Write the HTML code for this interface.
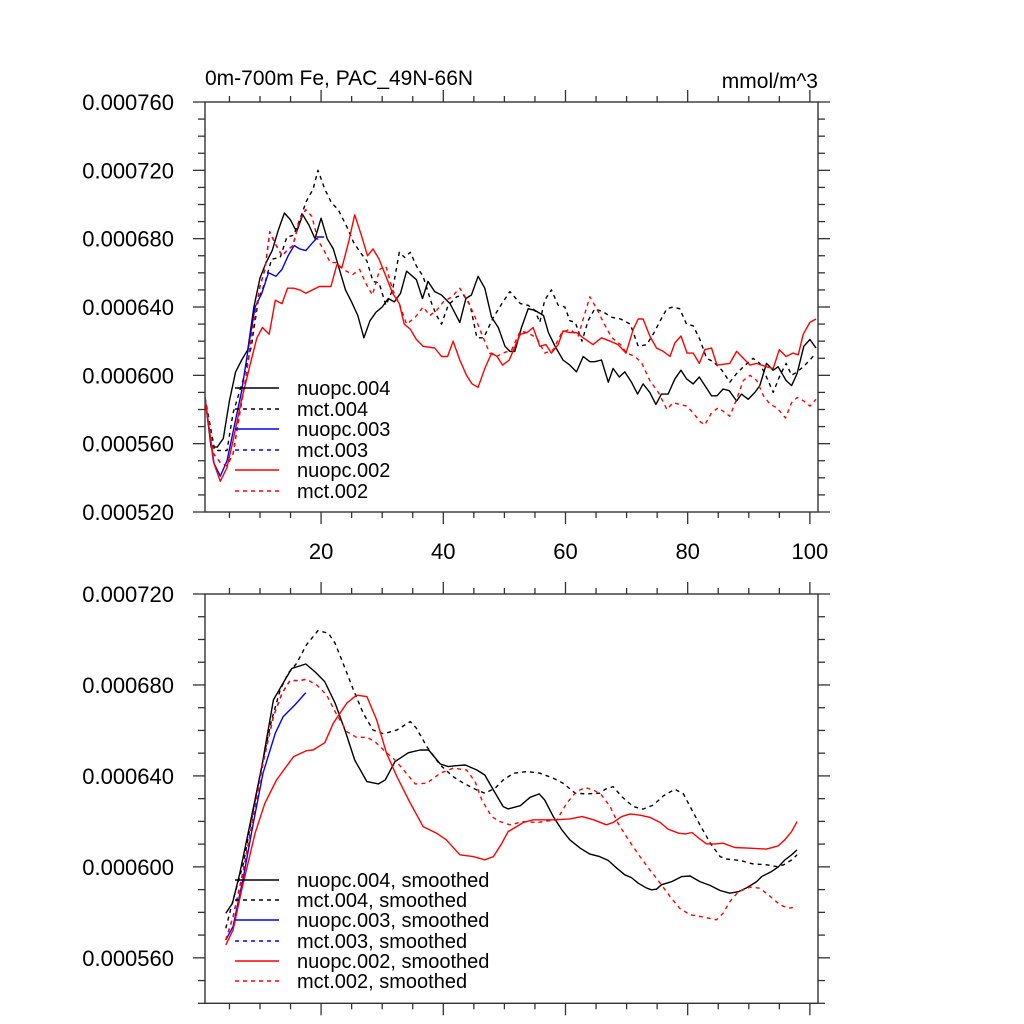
<!DOCTYPE html>
<html><head><meta charset="utf-8"><title>0m-700m Fe, PAC_49N-66N</title>
<style>html,body{margin:0;padding:0;background:#fff;}svg{display:block;font-family:"Liberation Sans",Arial,sans-serif;}</style>
</head><body>
<svg id="chart" width="1024" height="1024" viewBox="0 0 1024 1024" xmlns="http://www.w3.org/2000/svg">
<rect x="0" y="0" width="1024" height="1024" fill="#fff"/>
<defs>
<clipPath id="clipTop"><rect x="205" y="102" width="613" height="410"/></clipPath>
<clipPath id="clipBot"><rect x="205" y="594" width="613" height="409.3"/></clipPath>
</defs>
<text x="205" y="85" font-size="21">0m-700m Fe, PAC_49N-66N</text>
<text x="818" y="88" font-size="21" text-anchor="end">mmol/m^3</text>
<g id="axesTop"></g>
<g id="axesBot"></g>
<g id="seriesTop" clip-path="url(#clipTop)"></g>
<g id="seriesBot" clip-path="url(#clipBot)"></g>
<g id="legendTop"></g>
<g id="legendBot"></g>
</svg>
<script>
// ---- data (values in units of 1e-6 mmol/m^3) ----
const xTickLabels = [20, 40, 60, 80, 100];
const topYTickLabels = ["0.000520","0.000560","0.000600","0.000640","0.000680","0.000720","0.000760"];
const topYTickValues = [520, 560, 600, 640, 680, 720, 760];
const botYTickLabels = ["0.000560","0.000600","0.000640","0.000680","0.000720"];
const botYTickValues = [560, 600, 640, 680, 720];

const nuopc004Years = [1,2,3,4,5,6,7,8,9,10,11,12,13,14,15,16,17,18,19,20,21,22,23,24,25,26,27,28,29,30,31,32,33,34,35.6,36.6,37.5,38.6,39.7,41.1,42.7,43.7,44.6,45.7,46.8,47.9,49,50.1,50.9,51.7,52.8,53.9,55,56.4,57.2,58.3,59.6,60.7,61.8,62.9,64,64.8,65.9,67,67.8,68.8,69.7,70.8,71.8,72.7,73.8,74.8,75.7,76.8,77.9,78.9,79.8,80.9,81.9,83,83.9,84.8,85.8,86.8,88,88.8,89.9,91,91.8,92.9,94,94.8,96.1,97,97.9,99,100,101];
const nuopc004Values = [587,558,558,563,585,602,609,615,640,657,666,673,685,695,691,684,694,688,680,692,680,674,662,650,643,635,622,632,637,640,645,643,648,661,656,645,655,649,647,642,631,645,647,658,651,634,628,617,614,614,628,639,638,635,625,617,609,606,602,611,608,608,609,596,604,599,602,596,589,595,590,583,589,589,598,603,598,595,599,593,588,588,592,591,585,589,586,590,594,607,603,605,597,594,601,617,621,616];

const mct004Years = [1,2.6,4.6,5.6,7.2,8.6,9.7,10.8,11.9,13.3,14.4,15.5,16.6,17.6,18.7,19.5,20.6,21.7,22.8,24.2,25.3,26.4,27.5,28.5,29.5,30.6,31.7,32.8,33.7,34.6,35.6,36.7,38.1,38.9,39.7,40.8,42.2,43.3,44.4,45.5,46.6,48.2,49.6,50.9,52.6,53.9,55,55.8,56.6,57.7,58.8,59.9,60.7,61.6,62.7,63.7,64.8,66.2,67.6,69,70.6,71.9,73.3,74.5,75.5,76.6,77.6,78.7,79.8,80.9,82,83.1,84.2,85.6,86.9,88,89.1,90.7,91.8,92.9,94,95.1,96.1,97,97.9,98.9,100,101];
const mct004Values = [587,556,556,578,597,617,644,654,668,669,681,682,692,702,709,720,709,701,697,687,678,672,667,655,654,641,650,672,669,672,664,658,642,635,630,641,646,647,641,622,622,634,642,649,642,641,638,631,644,650,641,640,632,631,620,632,639,637,634,633,630,617,618,625,632,639,640,639,630,629,621,610,608,603,596,601,605,610,607,599,590,600,607,600,602,605,609,613];

const nuopc003Years = [1,2.4,3.5,4.6,6,7,8.4,9.2,10.3,11.4,12.6,13.6,14.6,15.6,16.5,17.5,18.7,19.5,20.5];
const nuopc003Values = [587,549,541,550,574,591,623,640,648,660,658,662,670,676,674,673,678,681,681];

const mct003Years = [1,2.4,3.5,4.6,5.6,6.7,7.8,8.9,10,10.8,11.6,12.5,13.6,14.4,15.4,16.4,17.5];
const mct003Values = [587,554,549,547,554,578,601,630,652,662,684,677,670,673,676,690,697];

const nuopc002Years = [1,2.5,3.5,4.6,5.6,7,8.3,9.5,10.4,11.5,12.5,13.6,14.5,15.5,16.5,17.5,18.6,19.7,21.6,22.6,23.4,24.5,25.5,26.6,27.6,28.5,29.5,30.6,31.7,32.8,33.6,34.6,35.6,36.7,38.6,39.7,40.7,41.6,42.7,43.8,44.7,45.7,46.8,47.9,48.8,49.7,50.8,51.5,52.6,53.7,54.7,55.8,56.8,57.7,58.8,59.6,60.7,61.8,62.9,64.5,65.9,67.3,68.6,69.9,71.1,71.9,72.7,73.8,74.9,76,77.1,77.9,78.9,79.9,80.9,81.9,82.8,83.9,84.8,86.9,88,89.1,90.2,91.3,92.9,94,95,96.1,97.2,98.1,98.9,100,101];
const nuopc002Values = [586,548,538,546,562,586,605,622,628,624,644,642,651,651,650,648,650,652,652,665,663,678,694,682,670,674,668,658,648,642,630,627,621,617,616,611,611,620,609,600,595,593,604,613,611,606,609,615,624,625,628,617,618,613,618,626,625,625,622,618,622,620,618,613,627,633,633,623,616,614,611,619,623,613,613,607,615,616,606,607,614,610,606,607,605,604,615,611,613,612,624,631,633];

const mct002Years = [1,2.4,3.5,4.6,5.6,6.7,7.8,8.9,10,10.8,11.6,12.5,13.6,14.4,15.4,16.4,17.5,18.5,19.5,20.5,21.5,22.4,23.6,25.2,26.3,27.3,28.4,29.6,30.6,31.7,32.8,34,35.4,36.7,37.8,38.9,40,41.4,42.7,44.1,45.2,46.3,47.6,48.7,49.8,51.2,52.6,53.7,55.3,56.6,58,59.4,60.7,62.1,62.9,64,65.1,66.2,67.6,69,70,71.4,72.5,73.8,75.2,76.6,77.6,78.7,79.8,80.9,82,82.8,83.9,85,85.8,86.9,88,89.1,90.2,91.3,92.4,93.5,94.6,96,97,97.9,99,100,101];
const mct002Values = [587,554,549,547,554,578,601,630,652,662,684,677,670,673,676,690,697,693,679,673,666,666,662,659,662,654,647,662,664,650,642,630,634,640,635,638,643,646,651,643,634,624,613,611,613,615,626,625,622,613,615,625,627,623,633,646,639,631,622,618,613,611,607,597,590,580,584,583,582,578,573,571,578,581,579,576,586,597,600,597,588,583,581,575,584,587,585,582,586];

const nuopc004sYears = [4.4,5.5,6.7,8.4,10.3,12.2,13.6,15.2,17.5,19,20.6,22.3,23.9,25.5,27.5,29.4,30.5,32.1,34.3,36.2,37.6,39.5,40.8,42.1,43.6,45.5,46.8,48.2,49.8,50.6,52.6,54.2,55.7,56.6,58,59.4,60.7,62.4,64,65.6,67,68.4,69.7,70.8,71.9,73.3,74.1,74.9,75.7,77.4,79,80.4,82,83.7,85.3,86.9,88.3,89.7,91.3,92.1,93.7,94.8,95.9,97,97.9];
const nuopc004sValues = [579.6,584,597.2,619.2,644.1,673.4,680,687.3,689.2,685.8,681.4,672,660.2,647,637.5,636.5,638.2,646.3,650.2,651.4,651.4,645.3,644.1,644.5,644.8,642.6,640.4,633.8,626.5,625.5,626.9,630.6,632.1,629.4,622.1,616.3,611.9,608.2,605.6,604.5,602.8,599.4,596.5,595.3,592.8,590.6,589.9,590.2,592.1,593.5,595.7,596,593.5,591.8,589.6,588.4,589.1,590.9,593.5,595.7,597.9,599.9,603,605.3,607.5];

const mct004sYears = [4.4,5.6,7.3,8.9,10.5,11.9,13.3,14.6,16,17.6,19.5,21.2,22.3,23.6,25.3,26.9,28.5,30.2,32.4,34.6,35.6,37.3,39.5,41.6,43.3,45.5,46.8,48.5,49.8,51.5,53.7,55.8,58,59.6,61.6,63.5,65.6,66.5,67.8,69.2,71.1,72.7,74.4,76,77.9,79.3,80.4,82,83.7,85.3,86.4,88.6,90.7,92.9,94.6,95.7,97,97.9];
const mct004sValues = [573,585.5,601.6,625,647,664.6,677.8,685.1,689.5,697.6,703.9,702.7,698.3,689.5,677.8,667.6,660.2,658.5,660.2,663.9,661,652.9,644.8,639.7,636.8,633.8,632.4,634.6,638.2,641.2,641.9,641.2,639,636.8,632.4,632.1,632.4,634.1,635.3,630.9,626.5,625.4,627.2,631.2,634.1,632.1,626.5,618.5,610.4,604.5,603.4,602.8,601.3,600.9,600.1,600.9,603,605.3];

const nuopc003sYears = [4.4,5.6,7.3,8.9,10.5,12.5,13.8,15.7,17.5];
const nuopc003sValues = [567.9,573.8,595.7,619.2,641.2,658.8,666.1,671.2,676.6];

const mct003sYears = [4.4,5.6,7.3,8.9,10.5,12.2,13.6,14.9,16.5,17.6];
const mct003sValues = [567.9,578.1,598.7,622.1,645.6,666.1,676.3,681.9,681.9,682.5];

const nuopc002sYears = [4.4,5.6,7,9.2,10.8,12.7,15.5,17.6,18.7,20.6,22,24.2,25.8,27.5,29.1,30.7,32.4,34.6,36.7,38.9,40.5,42.7,44.9,46.8,48.2,49.6,50.6,52,53.1,54.7,58.3,60.7,62.7,64.6,66.7,67.8,69.2,70.6,72.2,73.8,75.5,76.8,78.5,79.6,80.7,82,83.1,84.5,85.8,87.7,90.2,92.9,94.8,95.9,97,97.9];
const nuopc002sValues = [565.7,572.3,589.9,614.8,628,638.2,648.5,651.1,651.4,654.6,663.2,672,675.5,674.9,664.6,650,639.7,628,617.7,614.8,611.9,605.3,604.5,603.1,604.5,610.4,615.5,617.7,619.5,620.7,620.7,621.1,622.1,620.7,618.5,619.5,622.1,623.3,622.7,621.8,619.5,616.6,614.8,614.5,615.1,612.2,610.1,610.1,610.4,608.5,608.2,607.8,609.2,611.9,615.5,619.9];

const mct002sYears = [4.4,5.6,7.3,8.9,10.5,12.2,13.6,14.9,16.5,17.6,19.3,20.9,22.3,24.2,25.8,27.5,28.8,30.5,32.1,33.5,35.4,37.3,39.5,41.6,43.8,45.2,46.3,47.9,49.3,50.9,53.1,55.3,58.6,60.2,61.8,63.2,64.6,65.9,67.3,68.6,70.3,72.2,73.8,75.5,77.1,78.7,80.4,82.6,84.7,85.8,86.9,88.3,90.2,91.8,93.5,95.1,96.5,97.9];
const mct002sValues = [567.9,578.1,598.7,622.1,645.6,666.1,676.3,681.9,681.9,682.5,680,675.6,668.3,659.5,657,657,655.1,650.7,647,642.6,636.5,636.8,641.2,643.4,642.6,637.5,629.4,622.1,619.9,618.5,619.9,619.5,620.7,628,633.1,634.9,633.8,631.6,626.5,619.2,611.9,604.5,598.7,592.8,587,581.8,578.9,577.9,576.7,579.6,584.7,589.1,591.1,590.6,587,583.3,581.8,582.5];

const topLegendLabels = ["nuopc.004","mct.004","nuopc.003","mct.003","nuopc.002","mct.002"];
const botLegendLabels = ["nuopc.004, smoothed","mct.004, smoothed","nuopc.003, smoothed","mct.003, smoothed","nuopc.002, smoothed","mct.002, smoothed"];

// ---- layout ----
const NS = "http://www.w3.org/2000/svg";
const X0 = 205, X1 = 818;
const TOP = {y0: 102, y1: 512, vmin: 520, vmax: 760};
const BOT = {y0: 594, y1: 1003.3, vmin: 540, vmax: 720};
function xScale(yr){ return X0 + (yr - 1) * 6.11; }
function yScaleTop(v){ return TOP.y1 - (v - TOP.vmin) / (TOP.vmax - TOP.vmin) * (TOP.y1 - TOP.y0); }
function yScaleBot(v){ return BOT.y1 - (v - BOT.vmin) / (BOT.vmax - BOT.vmin) * (BOT.y1 - BOT.y0); }
const AX = "#333";

function mk(tag, attrs, parent){
  const e = document.createElementNS(NS, tag);
  for (const k in attrs) e.setAttribute(k, attrs[k]);
  parent.appendChild(e);
  return e;
}

function drawAxes(g, P, yScale, majVals, majLabels, minStep, showXLabels, prefix){
  const frame = mk("rect", {x: X0, y: P.y0, width: X1 - X0, height: P.y1 - P.y0, fill: "none", stroke: AX, "stroke-width": 1.4}, g);
  
  
  for (let yr = 5; yr <= 100; yr += 5){
    const major = yr % 20 === 0;
    const len = major ? 12 : 6;
    const x = xScale(yr);
    const t1 = mk("line", {x1: x, x2: x, y1: P.y0, y2: P.y0 - len, stroke: AX, "stroke-width": 1.3}, g);
    
    
    const t2 = mk("line", {x1: x, x2: x, y1: P.y1, y2: P.y1 + len, stroke: AX, "stroke-width": 1.3}, g);
    
    
  }
  if (showXLabels){
    xTickLabels.forEach(v => {
      const t = mk("text", {x: xScale(v), y: P.y1 + 47, "font-size": 22, "text-anchor": "middle", fill: "#000"}, g);
      t.textContent = String(v);
      
      
    });
  }
  for (let v = P.vmin; v <= P.vmax + 0.001; v += minStep){
    const major = majVals.indexOf(Math.round(v)) >= 0;
    const len = major ? 12 : 7;
    const y = yScale(v);
    const a = mk("line", {x1: X0, x2: X0 - len, y1: y, y2: y, stroke: AX, "stroke-width": 1.3}, g);
    
    
    const b = mk("line", {x1: X1, x2: X1 + len, y1: y, y2: y, stroke: AX, "stroke-width": 1.3}, g);
    
    
  }
  majVals.forEach((v, i) => {
    const t = mk("text", {x: 174, y: yScale(v) + 8, "font-size": 22, "text-anchor": "end", fill: "#000"}, g);
    t.textContent = majLabels[i];
    
    
  });
}

function drawSeries(g, years, vals, yScale, color, dashed, name){
  const n = Math.min(years.length, vals.length);
  let d = "";
  for (let i = 0; i < n; i++){
    d += (i ? "L" : "M") + xScale(years[i]).toFixed(1) + "," + yScale(vals[i]).toFixed(1);
  }
  const p = mk("path", {d: d, fill: "none", stroke: color, "stroke-width": 1.4, "stroke-linejoin": "round"}, g);
  if (dashed) p.setAttribute("stroke-dasharray", "4,4");
  
  
}

function drawLegend(g, labels, rowY, prefix){
  const colors = ["#000","#000","#0000ff","#0000ff","#ff0000","#ff0000"];
  const dash = [false,true,false,true,false,true];
  labels.forEach((lab, i) => {
    const y = rowY[i];
    const l = mk("line", {x1: 235, x2: 279, y1: y, y2: y, stroke: colors[i], "stroke-width": 1.4}, g);
    if (dash[i]) l.setAttribute("stroke-dasharray", "4,4");
    
    
    const t = mk("text", {x: 297, y: y + 7, "font-size": 20, fill: "#000"}, g);
    t.textContent = lab;
    
    
  });
}

drawAxes(document.getElementById("axesTop"), TOP, yScaleTop, topYTickValues, topYTickLabels, 10, true, "top");
drawAxes(document.getElementById("axesBot"), BOT, yScaleBot, botYTickValues, botYTickLabels, 10, false, "bottom");

const sT = document.getElementById("seriesTop");
drawSeries(sT, nuopc004Years, nuopc004Values, yScaleTop, "#000", false, "nuopc-004-line");
drawSeries(sT, mct004Years, mct004Values, yScaleTop, "#000", true, "mct-004-line");
drawSeries(sT, nuopc003Years, nuopc003Values, yScaleTop, "#0000ff", false, "nuopc-003-line");
drawSeries(sT, mct003Years, mct003Values, yScaleTop, "#0000ff", true, "mct-003-line");
drawSeries(sT, nuopc002Years, nuopc002Values, yScaleTop, "#ff0000", false, "nuopc-002-line");
drawSeries(sT, mct002Years, mct002Values, yScaleTop, "#ff0000", true, "mct-002-line");

const sB = document.getElementById("seriesBot");
drawSeries(sB, nuopc004sYears, nuopc004sValues, yScaleBot, "#000", false, "nuopc-004-smoothed-line");
drawSeries(sB, mct004sYears, mct004sValues, yScaleBot, "#000", true, "mct-004-smoothed-line");
drawSeries(sB, nuopc003sYears, nuopc003sValues, yScaleBot, "#0000ff", false, "nuopc-003-smoothed-line");
drawSeries(sB, mct003sYears, mct003sValues, yScaleBot, "#0000ff", true, "mct-003-smoothed-line");
drawSeries(sB, nuopc002sYears, nuopc002sValues, yScaleBot, "#ff0000", false, "nuopc-002-smoothed-line");
drawSeries(sB, mct002sYears, mct002sValues, yScaleBot, "#ff0000", true, "mct-002-smoothed-line");

drawLegend(document.getElementById("legendTop"), topLegendLabels, [388, 409, 429, 450, 470, 491], "top");
drawLegend(document.getElementById("legendBot"), botLegendLabels, [880, 900, 920, 941, 961, 981], "bottom");
</script>
</body></html>
